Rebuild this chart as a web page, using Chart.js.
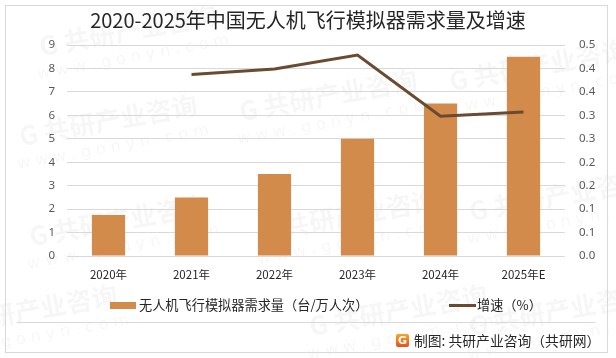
<!DOCTYPE html>
<html>
<head>
<meta charset="utf-8">
<script src="https://cdn.jsdelivr.net/npm/chart.js@4/dist/chart.umd.min.js"></script>
<style>
  html, body { margin: 0; padding: 0; background: #fff; }
  #wrap { position: relative; width: 616px; height: 358px; overflow: hidden; font-family: "Noto Sans CJK SC", "Noto Sans", sans-serif; }
  #frame { position: absolute; left: 5px; top: 5px; width: 601px; height: 346px; border: 1px solid #D9D9D9; box-sizing: content-box; }
  #title { position: absolute; left: 0; width: 616px; top: 6px; text-align: center; font-size: 20px; color: #262626; line-height: 28px; }
  #sep { position: absolute; left: 17px; width: 578px; top: 322px; height: 0; border-top: 1px solid #D9D9D9; }
  #legend { position: absolute; top: 295px; left: 0; width: 616px; height: 20px; font-size: 13.2px; color: #262626; }
  .lg { position: absolute; top: 0; line-height: 20px; white-space: nowrap; }
  .sw { position: absolute; }
  #footer { position: absolute; top: 330px; left: 396px; font-size: 13.8px; color: #262626; line-height: 20px; white-space: nowrap; }
  #icon { display: inline-block; width: 13px; height: 13px; background: linear-gradient(#F5A623, #E8501E); border-radius: 2px; vertical-align: -1px; margin-right: 5px; position: relative; }
  #icon span { position: absolute; left: 2px; top: -3px; color: #fff; font-size: 11px; font-weight: bold; font-family: "DejaVu Sans", sans-serif; }
  canvas { position: absolute; left: 0; top: 0; }
</style>
</head>
<body>
<div id="wrap">
  <canvas id="c" width="616" height="358"></canvas>
  <div id="frame"></div>
  <div id="title">2020-2025年中国无人机飞行模拟器需求量及增速</div>
  <div id="legend">
    <div class="sw" style="left:110px; top:7px; width:26px; height:7px; background:#D38B4C;"></div>
    <div class="lg" style="left:139px;">无人机飞行模拟器需求量（台/万人次）</div>
    <div class="sw" style="left:449px; top:9px; width:27px; height:3px; background:#6A4A30;"></div>
    <div class="lg" style="left:477px;">增速（%）</div>
  </div>
  <div id="sep"></div>
  <div id="footer"><span id="icon"><span>G</span></span>制图: 共研产业咨询（共研网）</div>
</div>
<script>
const categories = ['2020年', '2021年', '2022年', '2023年', '2024年', '2025年E'];
const demandValues = [1.75, 2.5, 3.5, 5, 6.5, 8.5];
const growthValues = [null, 0.43, 0.443, 0.476, 0.331, 0.341];
const leftTickLabels = ['0', '1', '2', '3', '4', '5', '6', '7', '8', '9'];
const rightTickLabels = ['0.0', '0.1', '0.1', '0.2', '0.2', '0.3', '0.3', '0.4', '0.4', '0.5'];
const seriesNames = ['无人机飞行模拟器需求量（台/万人次）', '增速（%）'];

const watermark = {
  id: 'watermark',
  beforeDraw(chart) {
    const ctx = chart.ctx;
    ctx.save();
    const spots = [[110, 130], [330, 105], [540, 75], [120, 230], [350, 225], [560, 205], [130, 40], [400, 320], [560, 320], [30, 320]];
    for (const [x, y] of spots) {
      ctx.save();
      ctx.translate(x, y);
      ctx.rotate(-0.18);
      ctx.fillStyle = 'rgba(0,0,0,0.035)';
      ctx.font = 'bold 26px "Noto Sans CJK SC"';
      ctx.textAlign = 'center';
      ctx.fillText('G 共研产业咨询', 0, 0);
      ctx.font = '16px "DejaVu Sans"';
      ctx.fillText('w w w . g o n y n . c o m', 0, 22);
      ctx.restore();
    }
    ctx.restore();
  }
};

new Chart(document.getElementById('c'), {
  data: {
    labels: categories,
    datasets: [
      {
        type: 'line',
        label: seriesNames[1],
        data: growthValues,
        yAxisID: 'y1',
        borderColor: '#6A4A30',
        backgroundColor: '#6A4A30',
        borderWidth: 3,
        pointRadius: 0,
        pointHoverRadius: 0,
        tension: 0,
        spanGaps: false,
        order: 0
      },
      {
        type: 'bar',
        label: seriesNames[0],
        data: demandValues,
        yAxisID: 'y',
        backgroundColor: '#D38B4C',
        categoryPercentage: 1,
        barPercentage: 0.4,
        order: 1
      }
    ]
  },
  options: {
    responsive: false,
    animation: false,
    events: [],
    layout: { padding: { top: 45, left: 0, right: 0, bottom: 0 } },
    plugins: { legend: { display: false }, title: { display: false }, tooltip: { enabled: false } },
    scales: {
      x: {
        grid: { display: false, drawTicks: false },
        border: { display: false },
        ticks: { color: '#262626', font: { size: 11.5, family: '"Noto Sans CJK SC"' }, padding: 12, maxRotation: 0 },
        afterFit(s) { s.height = 102; }
      },
      y: {
        position: 'left',
        min: 0, max: 9,
        grid: { color: '#D9D9D9', drawTicks: false, lineWidth: 1 },
        border: { display: false },
        afterBuildTicks(s) { s.ticks = leftTickLabels.map((_, i) => ({ value: i })); },
        ticks: { color: '#595959', font: { size: 11.5, family: '"Noto Sans"' }, padding: 12,
                 callback: (v, i) => leftTickLabels[i] },
        afterFit(s) { s.width = 67; }
      },
      y1: {
        position: 'right',
        min: 0, max: 0.5,
        grid: { display: false, drawTicks: false },
        border: { display: false },
        afterBuildTicks(s) { s.ticks = rightTickLabels.map((_, i) => ({ value: 0.5 * i / (rightTickLabels.length - 1) })); },
        ticks: { color: '#595959', font: { size: 11.5, family: '"Noto Sans"' }, padding: 14,
                 callback: (v, i) => rightTickLabels[i] },
        afterFit(s) { s.width = 51; }
      }
    }
  },
  plugins: [watermark]
});
</script>
</body>
</html>
